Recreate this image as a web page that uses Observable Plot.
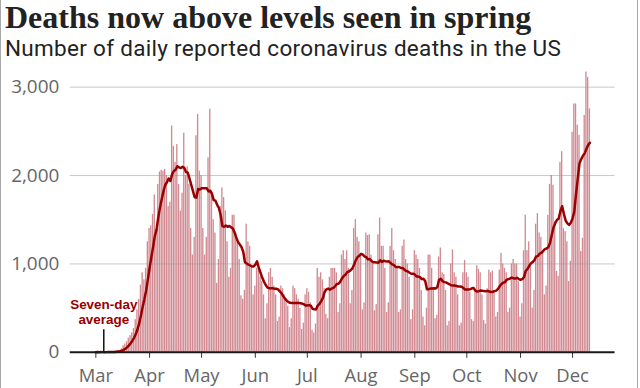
<!DOCTYPE html>
<html>
<head>
<meta charset="utf-8">
<script src="https://cdn.jsdelivr.net/npm/d3@7"></script>
<script src="https://cdn.jsdelivr.net/npm/@observablehq/plot@0.6"></script>
<style>
  html, body { margin: 0; padding: 0; background: #fff; }
  #wrap { position: relative; width: 636px; height: 388px; border-left: 1.5px solid #a9a9a9; border-right: 1.5px solid #a9a9a9; overflow: hidden; box-sizing: content-box; }
  #title { position: absolute; left: 4px; top: -0.3px; font-family: "Liberation Serif", serif; font-weight: bold; font-size: 32px; color: #222; white-space: nowrap; line-height: 34px; }
  #subtitle { position: absolute; left: 4px; top: 36.2px; font-family: Roboto, sans-serif; font-size: 22.5px; color: #222; white-space: nowrap; line-height: 24px; letter-spacing: 0.3px; }
  #chart { position: absolute; left: -1.5px; top: 58px; }
</style>
</head>
<body>
<div id="wrap">
  <div id="title">Deaths now above levels seen in spring</div>
  <div id="subtitle">Number of daily reported coronavirus deaths in the US</div>
  <div id="chart"></div>
</div>
<script>
// Daily reported deaths, one array per month of 2020 (starting 1 March)
const mar = [1,5,1,4,1,2,3, 4,4,5,8,9,18,22, 20,40,75,95,120,160,190, 220,270,370,480,600,760,900, 820,950,1250];
const apr = [1400,1430,1560,1780, 1350,1900,2040,2060,2050,2070,2000, 1650,1700,2560,2330,2150,2350,1900, 1600,1800,2480,2000,2100,1900,1400, 1100,1300,2450,2690,2050];
const may = [2000,1400, 1100,1300,2200,2750,1800,1500,1350, 780,1050,1650,1860,1750,1600,1250, 850,950,1550,1550,1350,1250,1050, 640,600,700,1450,1250,1200,950, 650];
const jun = [750,950,950,850,800,650, 380,550,900,950,850,750,650, 350,400,750,720,650,600,520, 280,380,750,720,650,600,500, 260,330,650];
const jul = [720,680,560,250, 220,320,950,850,900,820,720, 430,380,850,950,950,950,900, 450,550,1100,1150,1050,1150,950, 550,700,1400,1500,1300,1250];
const aug = [1100, 480,560,1350,1320,1330,1100,1000, 470,540,1330,1520,1200,1200,950, 450,560,1200,1400,1150,1050,950, 450,480,1200,1270,1050,1000,850, 370,480];
const sep = [1150,1100,1050,950,700, 400,300,500,1100,1100,950,720, 380,420,1080,1180,900,880,700, 300,350,1000,1160,900,850,650, 300,330,900,1040];
const oct = [900,850,680, 370,350,680,980,940,900,650, 360,320,720,930,900,920,700, 400,450,930,1120,1000,950,900, 450,500,1000,1050,1000,1000,800];
const nov = [400,550,1150,1550,1150,1250,1000, 500,700,1450,1570,1350,1300,1150, 650,750,1550,1900,2000,1890,1480, 915,860,2150,2270,1400,1365,1250, 800,1030];
const dec = [2490,2810,2810,2570,2455,1140,1290,2680,3170,3110,2755];

const monthArrays = [mar, apr, may, jun, jul, aug, sep, oct, nov, dec];
const firstMonth = 2; // March (0-based)
const yTicks = [0, 1000, 2000, 3000];
const xTickMonths = ["2020-03-01","2020-04-01","2020-05-01","2020-06-01","2020-07-01","2020-08-01","2020-09-01","2020-10-01","2020-11-01","2020-12-01"];
const annotation = {date: "2020-03-05T14:00Z", label: "Seven-day\naverage"};

const data = [];
monthArrays.forEach((arr, mi) => {
  arr.forEach((v, i) => data.push({date: new Date(Date.UTC(2020, firstMonth + mi, i + 1)), deaths: v}));
});

const half = 12 * 3600 * 1000;
const red = "#990000";

const chart = Plot.plot({
  width: 640,
  height: 330,
  marginTop: 11,
  marginBottom: 35,
  marginLeft: 70,
  marginRight: 23,
  style: {fontFamily: "'Open Sans', sans-serif", fontSize: "18.5px", background: "transparent", overflow: "visible"},
  x: {type: "utc", domain: [new Date(Date.UTC(2020,1,15,5,30)), new Date(Date.UTC(2020,11,25,12,45))]},
  y: {domain: [0, 3200]},
  marks: [
    Plot.rectY(data, {
      x1: d => new Date(+d.date - half),
      x2: d => new Date(+d.date + half),
      y: "deaths",
      fill: "#d18a92",
      insetLeft: 0.2,
      insetRight: 0.2
    }),
    Plot.ruleY(yTicks.filter(d => d > 0), {stroke: "#9a9a9a", strokeOpacity: 0.55, strokeWidth: 1}),
    Plot.lineY(data, Plot.windowY({k: 7, anchor: "end"}, {x: "date", y: "deaths", stroke: red, strokeWidth: 2.5, curve: "linear"})),
    Plot.ruleX([annotation], {x: d => new Date(d.date), y1: 0, y2: 255, stroke: "#111", strokeWidth: 1.5}),
    Plot.text([annotation], {x: d => new Date(d.date), y: 462, text: "label", fill: red, fontFamily: "'Liberation Sans', Arial, sans-serif", fontWeight: "bold", fontSize: 13.5, lineHeight: 1.14, lineAnchor: "middle", textAnchor: "middle"}),
    Plot.axisY({ticks: yTicks, tickSize: 0, tickPadding: 11, tickFormat: d3.format(","), fontSize: 19, color: "#666", label: null}),
    Plot.axisX({ticks: xTickMonths.map(s => new Date(s)), tickFormat: d3.utcFormat("%b"), tickSize: 6, tickPadding: 10.5, fontSize: 18.5, color: "#666", label: null}),
    Plot.ruleY([0], {stroke: "#1a1a1a", strokeWidth: 2})
  ]
});
document.getElementById("chart").appendChild(chart);
chart.querySelectorAll('[aria-label="x-axis tick"] path, [aria-label="x-axis tick"]').forEach(el => el.setAttribute("stroke", "#333"));
</script>
</body>
</html>
